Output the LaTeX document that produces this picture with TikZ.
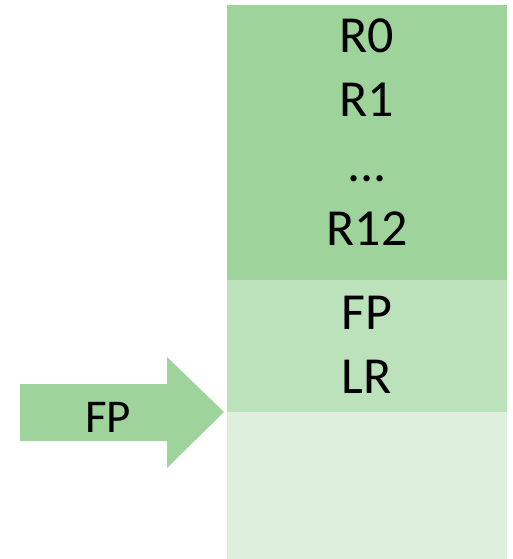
\documentclass[tikz,border=0pt]{standalone}
\usepackage{fontspec}
\setmainfont{Carlito}
\definecolor{regDark}{HTML}{9ED39C}
\definecolor{regMid}{HTML}{BCE2BB}
\definecolor{regLight}{HTML}{DEF0DD}

\begin{document}
\begin{tikzpicture}[x=1pt, y=-1pt,
    lbl/.style={font=\fontsize{52}{60}\selectfont, anchor=base, inner sep=0pt},
    lblsmall/.style={font=\fontsize{47}{56}\selectfont, anchor=base, inner sep=0pt}]
  \useasboundingbox (0,0) rectangle (513,559);
  % stack frame blocks
  \fill[regDark]  (227,5)   rectangle (507,280);
  \fill[regMid]   (227,280) rectangle (507,412);
  \fill[regLight] (227,412) rectangle (507,559);
  % saved registers
  \node[lbl] (r0)  at (367,53)  {R0};
  \node[lbl] (r1)  at (367,117) {R1};
  \node[lbl] (dots) at (367,181) {...};
  \node[lbl] (r12) at (367,245) {R12};
  \node[lbl] (fp)  at (367,329) {FP};
  \node[lbl] (lr)  at (367,393) {LR};
  % frame pointer arrow
  \fill[regDark] (20,384) -- (167,384) -- (167,357) -- (224,412)
    -- (167,468) -- (167,441) -- (20,441) -- cycle;
  \node[lblsmall] (fpptr) at (108,432) {FP};
\end{tikzpicture}
\end{document}
